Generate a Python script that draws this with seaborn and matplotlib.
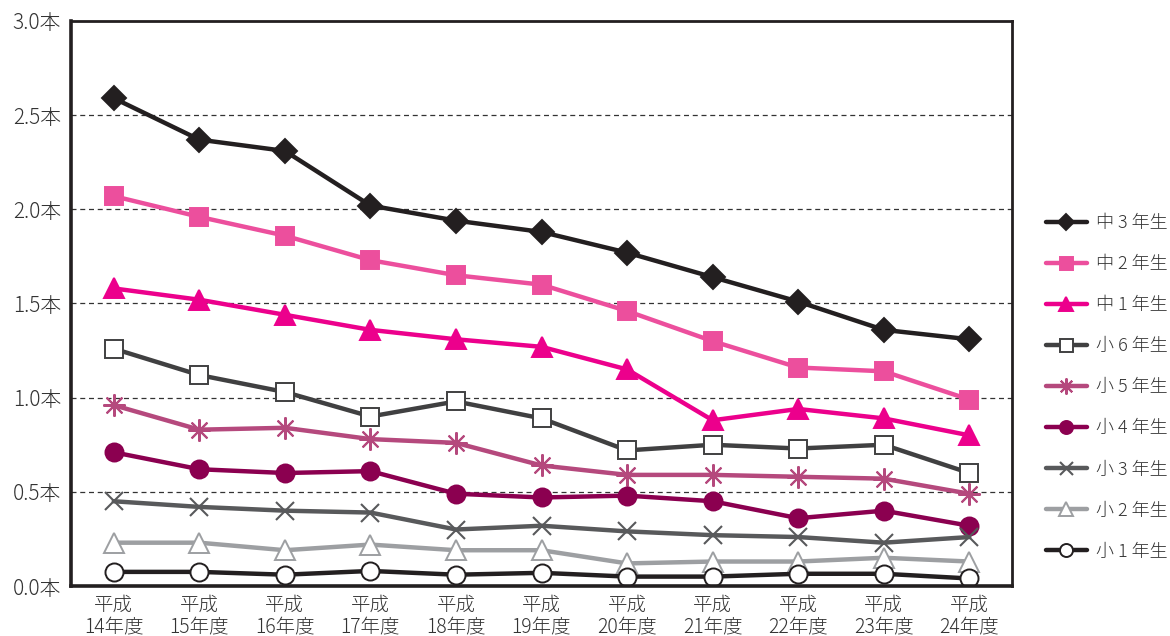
import matplotlib
matplotlib.use("Agg")
import matplotlib.pyplot as plt
import seaborn as sns
import numpy as np

# School years (Heisei era), one category per year
years = ["平成\n14年度", "平成\n15年度", "平成\n16年度", "平成\n17年度", "平成\n18年度",
         "平成\n19年度", "平成\n20年度", "平成\n21年度", "平成\n22年度", "平成\n23年度",
         "平成\n24年度"]

# Average number of decayed teeth per pupil, by grade
chu3 = [2.59, 2.37, 2.31, 2.02, 1.94, 1.88, 1.77, 1.64, 1.51, 1.36, 1.31]
chu2 = [2.07, 1.96, 1.86, 1.73, 1.65, 1.60, 1.46, 1.30, 1.16, 1.14, 0.99]
chu1 = [1.58, 1.52, 1.44, 1.36, 1.31, 1.27, 1.15, 0.88, 0.94, 0.89, 0.80]
sho6 = [1.26, 1.12, 1.03, 0.90, 0.98, 0.89, 0.72, 0.75, 0.73, 0.75, 0.60]
sho5 = [0.96, 0.83, 0.84, 0.78, 0.76, 0.64, 0.59, 0.59, 0.58, 0.57, 0.49]
sho4 = [0.71, 0.62, 0.60, 0.61, 0.49, 0.47, 0.48, 0.45, 0.36, 0.40, 0.32]
sho3 = [0.45, 0.42, 0.40, 0.39, 0.30, 0.32, 0.29, 0.27, 0.26, 0.23, 0.26]
sho2 = [0.23, 0.23, 0.19, 0.22, 0.19, 0.19, 0.12, 0.13, 0.13, 0.15, 0.13]
sho1 = [0.075, 0.075, 0.06, 0.08, 0.06, 0.07, 0.05, 0.05, 0.065, 0.065, 0.04]

labels = ["中 3 年生", "中 2 年生", "中 1 年生", "小 6 年生", "小 5 年生",
          "小 4 年生", "小 3 年生", "小 2 年生", "小 1 年生"]
yticks = [0.0, 0.5, 1.0, 1.5, 2.0, 2.5, 3.0]

series = [chu3, chu2, chu1, sho6, sho5, sho4, sho3, sho2, sho1]

# line colour, marker, face colour, marker size
styles = [
    ("#231f20", "D", "#231f20", 12),
    ("#ec4f9d", "s", "#ec4f9d", 13),
    ("#ec008c", "^", "#ec008c", 14),
    ("#404041", "s", "white", 13),
    ("#b5497d", (8, 2, 0), "#b5497d", 16),
    ("#8b0050", "o", "#8b0050", 13),
    ("#58595b", "x", "#58595b", 13),
    ("#9d9fa2", "^", "white", 14),
    ("#231f20", "o", "white", 13),
]

sns.set_theme(style="white")
plt.rcParams["font.family"] = ["Noto Sans CJK JP", "DejaVu Sans"]
plt.rcParams["font.weight"] = "light"

fig = plt.figure(figsize=(11.7, 6.36), dpi=100)
ax = fig.add_axes([0.0607, 0.0786, 0.8043, 0.8884])

x = np.arange(len(years))
for vals, lab, (col, mk, fc, ms) in zip(series, labels, styles):
    ew = 1.4
    if mk == "x" or isinstance(mk, tuple):
        ew = 1.5
    sns.lineplot(x=x, y=vals, ax=ax, color=col, linewidth=3.2, label=lab,
                 marker=mk, markersize=ms, markerfacecolor=fc,
                 markeredgecolor=col, markeredgewidth=ew, legend=False)

ax.set_xlim(-0.5, len(years) - 0.5)
ax.set_ylim(0, 3.0)
ax.set_yticks(yticks)
ax.set_yticklabels([f"{v:.1f}本" for v in yticks], fontsize=15, color="#333333")
for v in yticks[1:-1]:
    ax.axhline(v, color="#333333", linestyle=(0, (4, 3)), linewidth=0.9, zorder=0)

ax.set_xticks(x)
ax.set_xticklabels(years, fontsize=14, color="#333333", linespacing=1.1)
ax.set_xticks(np.arange(len(years) - 1) + 0.5, minor=True)
ax.tick_params(axis="x", which="major", length=0, pad=6)
ax.tick_params(axis="x", which="minor", direction="in", length=5, width=1, color="#333333")
ax.tick_params(axis="y", length=0, pad=7)
ax.set_xlabel("")
ax.set_ylabel("")

for side in ("left", "bottom"):
    ax.spines[side].set_linewidth(2.6)
    ax.spines[side].set_color("#231f20")
for side in ("top", "right"):
    ax.spines[side].set_linewidth(2.0)
    ax.spines[side].set_color("#231f20")

handles, labs = ax.get_legend_handles_labels()
fig.legend(handles, labs, loc="center left", bbox_to_anchor=(0.880, 0.391),
           frameon=False, fontsize=13, labelspacing=1.28, handlelength=2.27,
           handletextpad=0.5, markerscale=0.72, labelcolor="#333333")

fig.savefig("out.png", dpi=100)
